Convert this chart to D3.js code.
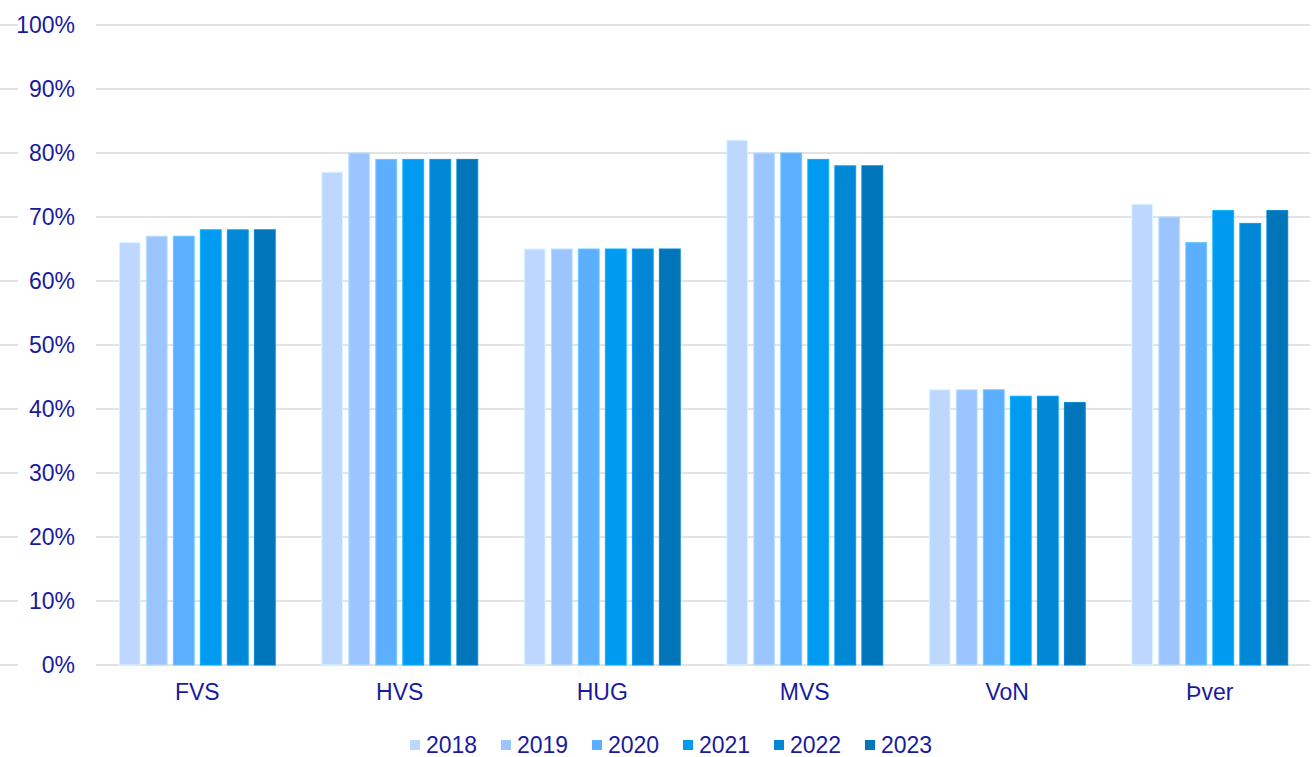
<!DOCTYPE html>
<html>
<head>
<meta charset="utf-8">
<script src="https://cdn.jsdelivr.net/npm/d3@7"></script>
<style>
  body { margin: 0; background: #fff; }
  svg { display: block; font-family: "Liberation Sans", Arial, sans-serif; }
</style>
</head>
<body>
<div id="chart"></div>
<script>
var categories = ['FVS', 'HVS', 'HUG', 'MVS', 'VoN', 'Þver'];
var years      = ['2018', '2019', '2020', '2021', '2022', '2023'];
var colors     = ['#bdd7ff', '#9cc5ff', '#5caeff', '#009bf0', '#0088d6', '#0075ba'];
var yTicks     = [0, 10, 20, 30, 40, 50, 60, 70, 80, 90, 100];

// one array per year, values in %, in category order
var v2018 = [66, 77, 65, 82, 43, 72];
var v2019 = [67, 80, 65, 80, 43, 70];
var v2020 = [67, 79, 65, 80, 43, 66];
var v2021 = [68, 79, 65, 79, 42, 71];
var v2022 = [68, 79, 65, 78, 42, 69];
var v2023 = [68, 79, 65, 78, 41, 71];
var series = [v2018, v2019, v2020, v2021, v2022, v2023];

var width = 1316, height = 757;
var textColor = '#1a1a9e';
var fontSize = '23px';

var svg = d3.select('#chart').append('svg')
  .attr('width', width)
  .attr('height', height);

var y = d3.scaleLinear().domain([0, 100]).range([665, 25]);

var x0 = d3.scaleBand()
  .domain(categories)
  .range([96, 1311])
  .paddingInner(0.23)
  .paddingOuter(0.115);

var x1 = d3.scaleBand()
  .domain(years)
  .range([0, x0.bandwidth()])
  .paddingInner(0.23);

// gridlines (broken behind the tick labels)
var grid = svg.append('g');
grid.selectAll('line.l')
  .data(yTicks)
  .enter().append('line')
  .attr('x1', 0).attr('x2', 18)
  .attr('y1', function(d){ return y(d); })
  .attr('y2', function(d){ return y(d); })
  .attr('stroke', '#e3e3e3').attr('stroke-width', 2);
grid.selectAll('line.r')
  .data(yTicks)
  .enter().append('line')
  .attr('x1', 96).attr('x2', 1310)
  .attr('y1', function(d){ return y(d); })
  .attr('y2', function(d){ return y(d); })
  .attr('stroke', '#e3e3e3').attr('stroke-width', 2);

// y tick labels
svg.append('g').selectAll('text')
  .data(yTicks)
  .enter().append('text')
  .attr('x', 75)
  .attr('y', function(d){ return y(d); })
  .attr('dy', '0.36em')
  .attr('text-anchor', 'end')
  .attr('fill', textColor)
  .style('font-size', fontSize)
  .text(function(d){ return d + '%'; });

// bars
var groups = svg.append('g').selectAll('g')
  .data(categories)
  .enter().append('g')
  .attr('transform', function(d){ return 'translate(' + x0(d) + ',0)'; });

groups.selectAll('rect')
  .data(function(d, i){
    return years.map(function(yr, j){ return { year: yr, value: series[j][i], color: colors[j] }; });
  })
  .enter().append('rect')
  .attr('x', function(d){ return x1(d.year); })
  .attr('width', x1.bandwidth())
  .attr('y', function(d){ return y(d.value); })
  .attr('height', function(d){ return y(0) - y(d.value); })
  .attr('fill', function(d){ return d.color; })
  .attr('stroke', function(d){ return d3.color(d.color).brighter(0.4); })
  .attr('stroke-width', 1);

// category labels
svg.append('g').selectAll('text')
  .data(categories)
  .enter().append('text')
  .attr('x', function(d){ return x0(d) + x0.bandwidth() / 2; })
  .attr('y', 692)
  .attr('dy', '0.36em')
  .attr('text-anchor', 'middle')
  .attr('fill', textColor)
  .style('font-size', fontSize)
  .text(function(d){ return d; });

// legend
var legend = svg.append('g').selectAll('g')
  .data(years)
  .enter().append('g')
  .attr('transform', function(d, i){ return 'translate(' + (410 + i * 91) + ',745)'; });

legend.append('rect')
  .attr('x', 0).attr('y', -5)
  .attr('width', 10).attr('height', 10)
  .attr('fill', function(d, i){ return colors[i]; });

legend.append('text')
  .attr('x', 16)
  .attr('dy', '0.36em')
  .attr('fill', textColor)
  .style('font-size', fontSize)
  .text(function(d){ return d; });
</script>
</body>
</html>
